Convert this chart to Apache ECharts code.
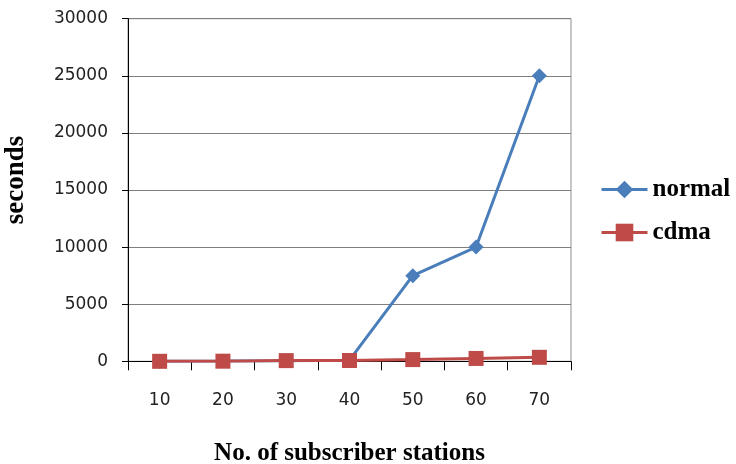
<!DOCTYPE html>
<html><head><meta charset="utf-8">
<script src="https://cdn.jsdelivr.net/npm/echarts@6/dist/echarts.min.js"></script>
<style>html,body{margin:0;padding:0;background:#fff}#c{width:736px;height:464px}</style>
</head><body><div id="c"></div>
<script>
var categories = ['10','20','30','40','50','60','70'];
var normalValues = [10, 20, 40, 100, 7500, 10000, 25000];
var cdmaValues = [0, 10, 60, 70, 150, 250, 350];

var chart = echarts.init(document.getElementById('c'));
chart.setOption({
  animation: false,
  grid: {left: 128, right: 165, top: 18.7, bottom: 102.7, show: true, borderColor: '#8c8c8c', borderWidth: 1, containLabel: false, outerBoundsMode: 'none'},
  legend: {
    orient: 'vertical', left: 600, top: 177, itemGap: 18, itemWidth: 46, itemHeight: 22, padding: 0,
    lineStyle: {width: 3},
    textStyle: {fontFamily: 'Liberation Serif', fontWeight: 'bold', fontSize: 25, color: '#000'},
    data: ['normal', 'cdma']
  },
  xAxis: {
    type: 'category', data: categories, boundaryGap: true,
    name: 'No. of subscriber stations', nameLocation: 'middle', nameGap: 80,
    nameTextStyle: {fontFamily: 'Liberation Serif', fontWeight: 'bold', fontSize: 25, color: '#000'},
    axisLine: {lineStyle: {color: '#000', width: 1}},
    axisTick: {show: true, length: 9, lineStyle: {color: '#000'}},
    axisLabel: {margin: 31, fontFamily: 'DejaVu Sans', fontSize: 17, color: '#222'}
  },
  yAxis: {
    type: 'value', min: 0, max: 30000, interval: 5000,
    name: 'seconds', nameLocation: 'middle', nameGap: 98,
    nameTextStyle: {fontFamily: 'Liberation Serif', fontWeight: 'bold', fontSize: 27, color: '#000', padding: [0, 0, 0, 20]},
    axisLine: {show: true, lineStyle: {color: '#000', width: 1}},
    axisTick: {show: true, length: 6, lineStyle: {color: '#000'}},
    axisLabel: {margin: 20, fontFamily: 'DejaVu Sans', fontSize: 17, color: '#222', formatter: function (v) { return String(v); }},
    splitLine: {lineStyle: {color: '#7f7f7f', width: 1}}
  },
  series: [
    {name: 'normal', type: 'line', data: normalValues, symbol: 'diamond', symbolSize: 15,
     lineStyle: {color: '#4a7ebb', width: 3}, itemStyle: {color: '#4a7ebb'}},
    {name: 'cdma', type: 'line', data: cdmaValues, symbol: 'rect', symbolSize: 15,
     lineStyle: {color: '#be4b48', width: 3}, itemStyle: {color: '#be4b48'}}
  ]
});
</script></body></html>
